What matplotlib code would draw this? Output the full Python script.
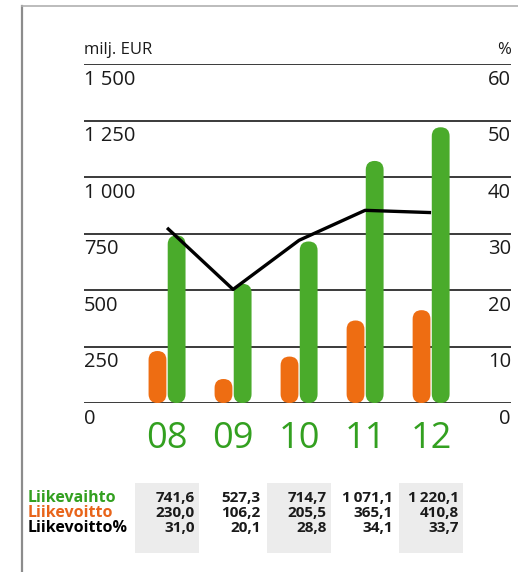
import matplotlib
matplotlib.use("Agg")
import matplotlib.pyplot as plt
from matplotlib.patches import FancyBboxPatch, Rectangle
from matplotlib.lines import Line2D
import matplotlib.transforms as mtransforms

plt.rcParams['font.family'] = ['Open Sans', 'Noto Sans', 'DejaVu Sans']

years = ["08", "09", "10", "11", "12"]
liikevaihto = [741.6, 527.3, 714.7, 1071.1, 1220.1]
liikevoitto = [230.0, 106.2, 205.5, 365.1, 410.8]
liikevoitto_pct = [31.0, 20.1, 28.8, 34.1, 33.7]
left_ticks = [0, 250, 500, 750, 1000, 1250, 1500]
left_tick_labels = ["0", "250", "500", "750", "1 000", "1 250", "1 500"]
right_tick_labels = ["0", "10", "20", "30", "40", "50", "60"]
row_labels = ["Liikevaihto", "Liikevoitto", "Liikevoitto%"]
vaihto_txt = ["741,6", "527,3", "714,7", "1\u2009071,1", "1\u2009220,1"]
voitto_txt = ["230,0", "106,2", "205,5", "365,1", "410,8"]
pct_txt = ["31,0", "20,1", "28,8", "34,1", "33,7"]

GREEN = "#4aab2b"
ORANGE = "#ee6d12"
LABEL_GREEN = "#33a020"

W, H = 518, 572
fig = plt.figure(figsize=(W / 100, H / 100), dpi=100)
fig.patch.set_facecolor("white")

# frame (screenshot border)
fig.add_artist(Line2D([22 / W, 22 / W], [0, 1 - 6 / H], color="#8c8c8c", lw=1.6, transform=fig.transFigure))
fig.add_artist(Line2D([22 / W, 1], [1 - 6 / H, 1 - 6 / H], color="#b0b0b0", lw=1.2, transform=fig.transFigure))

ax_l, ax_r = 84 / W, 511 / W
ax_b, ax_t = (H - 403) / H, (H - 64) / H
ax = fig.add_axes([ax_l, ax_b, ax_r - ax_l, ax_t - ax_b])
ax.set_xlim(-1.258, 5.21)
ax.set_ylim(0, 1500)
for s in ax.spines.values():
    s.set_visible(False)
ax.set_xticks([])
ax.set_yticks([])
ax.patch.set_alpha(0)

# gridlines
for t in left_ticks:
    ax.axhline(t, color="#3a3a3a", lw=1.4, zorder=1)

# aspect for rounded bars
px_x = (5.21 + 1.258) / (511 - 84)
px_y = 1500 / (403 - 64)
aspect = px_y / px_x

bw = 0.27
off = 0.145
for i in range(len(years)):
    for val, dx, col in [(liikevoitto[i], -off, ORANGE), (liikevaihto[i], off, GREEN)]:
        r = bw / 2
        p = FancyBboxPatch((i + dx - bw / 2 + r, r * aspect), bw - 2 * r, val - 2 * r * aspect,
                           boxstyle=f"round,pad={r},rounding_size={r}",
                           mutation_aspect=aspect, facecolor=col, edgecolor="none", zorder=3)
        ax.add_patch(p)

# line on secondary axis
ax2 = ax.twinx()
ax2.set_ylim(0, 60)
for s in ax2.spines.values():
    s.set_visible(False)
ax2.set_yticks([])
ax2.plot(range(len(years)), liikevoitto_pct, color="black", lw=2.4, zorder=5, solid_capstyle="butt")

# tick labels below gridlines
for t, lab, rlab in zip(left_ticks, left_tick_labels, right_tick_labels):
    ax.annotate(lab, xy=(0, t), xycoords=("axes fraction", "data"), xytext=(0, -4),
                textcoords="offset points", ha="left", va="top", fontsize=14.5, color="#1a1a1a")
    ax.annotate(rlab, xy=(1, t), xycoords=("axes fraction", "data"), xytext=(0, -4),
                textcoords="offset points", ha="right", va="top", fontsize=14.5, color="#1a1a1a")

ax.annotate("milj. EUR", xy=(0, 1500), xycoords=("axes fraction", "data"), xytext=(0, 4),
            textcoords="offset points", ha="left", va="bottom", fontsize=12, color="#1a1a1a")
ax.annotate("%", xy=(1, 1500), xycoords=("axes fraction", "data"), xytext=(0, 4),
            textcoords="offset points", ha="right", va="bottom", fontsize=12, color="#1a1a1a")

# category labels
for i, y in enumerate(years):
    ax.annotate(y, xy=(i, 0), xycoords="data", xytext=(0, -13), textcoords="offset points",
                ha="center", va="top", fontsize=26, color=LABEL_GREEN)

# table
trans = mtransforms.blended_transform_factory(ax.transData, fig.transFigure)
for i in range(0, len(years), 2):
    fig.add_artist(Rectangle((i - 0.49, (H - 553) / H), 0.97, 70 / H, transform=trans,
                             facecolor="#ececec", edgecolor="none", zorder=0))
row_y = [(H - 498) / H, (H - 513) / H, (H - 528) / H]
row_colors = [LABEL_GREEN, "#e8641a", "black"]
for lab, yy, c in zip(row_labels, row_y, row_colors):
    fig.text(28 / W, yy, lab, ha="left", va="center", fontsize=11.5, fontweight="bold", color=c)
for row, yy in zip([vaihto_txt, voitto_txt, pct_txt], row_y):
    for i, txt in enumerate(row):
        fig.text(i + 0.42, yy, txt, transform=trans, ha="right", va="center", fontsize=11,
                 fontweight="bold", color="#1a1a1a")

fig.savefig("out.png", dpi=100, facecolor="white")
